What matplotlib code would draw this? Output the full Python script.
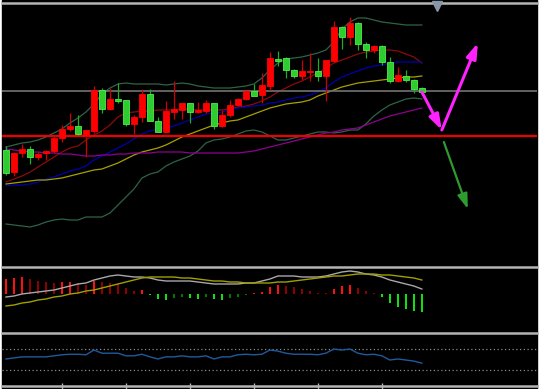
import matplotlib
matplotlib.use("Agg")
import matplotlib.pyplot as plt
import numpy as np
from matplotlib.patches import Rectangle

W, H = 539, 389

# candles (price in points)
opens = [150, 128, 147, 151, 143, 147, 149, 162, 171, 174, 165, 169, 210, 191, 201, 200, 176, 183,
         206, 179, 168, 188, 190, 197, 188, 189, 197, 174, 185, 195, 201, 209, 205, 214, 241, 242,
         230, 224, 228, 229, 224, 239, 273, 263, 277, 256, 250, 254, 238, 219, 224, 220, 212]
highs = [154, 148, 156, 154, 148, 150, 165, 175, 187, 185, 170, 214, 212, 212, 217, 200, 185, 211,
         211, 183, 199, 219, 197, 197, 198, 200, 197, 190, 200, 202, 210, 216, 227, 248, 249, 243,
         231, 240, 247, 242, 240, 279, 274, 283, 278, 258, 255, 255, 243, 233, 230, 221, 213]
lows = [125, 124, 143, 136, 140, 140, 147, 158, 169, 165, 143, 167, 187, 190, 197, 174, 166, 178,
        179, 168, 168, 181, 181, 177, 187, 187, 171, 173, 183, 194, 200, 204, 197, 210, 234, 222,
        222, 220, 219, 219, 199, 238, 251, 255, 250, 242, 247, 235, 217, 218, 218, 207, 207]
closes = [127, 147, 151, 143, 146, 149, 162, 171, 174, 166, 170, 210, 191, 201, 199, 176, 183, 206,
          179, 168, 189, 191, 197, 188, 190, 197, 174, 185, 195, 201, 209, 204, 215, 242, 239, 230,
          224, 229, 229, 224, 240, 273, 263, 277, 256, 250, 254, 238, 219, 225, 220, 211, 208]

# bollinger bands and moving averages
bb_upper = [153, 155, 157, 158, 160, 163, 167, 171, 177, 182, 188, 196, 206, 212, 216, 217, 216, 216,
            216, 216, 215, 216, 217, 216, 214, 213, 212, 212, 212, 213, 214, 216, 222, 230, 237, 241,
            242, 243, 245, 247, 250, 258, 271, 278, 282, 282, 280, 278, 277, 276, 275, 275, 275]
bb_mid = [118, 121, 124, 128, 133, 138, 143, 148, 152, 154, 160, 165, 169, 175, 183, 187, 188, 189,
          189, 190, 190, 190, 191, 191, 190, 190, 190, 190, 191, 193, 194, 196, 199, 203, 208, 212,
          216, 219, 223, 227, 232, 237, 240, 243, 246, 248, 249, 250, 250, 249, 246, 243, 237]
bb_lower = [76, 75, 74, 73, 75, 78, 80, 81, 80, 80, 83, 83, 83, 87, 95, 103, 111, 122,
            126, 128, 134, 138, 141, 144, 149, 157, 160, 161, 163, 166, 169, 170, 168, 164, 160, 160,
            162, 164, 166, 168, 168, 167, 168, 170, 170, 176, 184, 190, 195, 198, 201, 202, 201]
ma_blue = [114, 115, 115, 116, 118, 121, 123, 126, 129, 131, 134, 140, 144, 148, 152, 156, 161, 166,
           169, 171, 172, 174, 177, 180, 183, 186, 187, 188, 190, 192, 193, 194, 195, 197, 198, 200,
           202, 203, 205, 208, 212, 218, 223, 226, 229, 232, 234, 235, 237, 238, 238, 238, 238]
ma_yellow = [116, 117, 118, 119, 120, 120, 121, 122, 124, 126, 128, 130, 131, 134, 137, 141, 145, 148,
             150, 152, 155, 159, 163, 166, 169, 172, 175, 177, 179, 180, 183, 186, 189, 192, 194, 196,
             197, 198, 200, 204, 207, 210, 213, 215, 217, 218, 219, 220, 221, 222, 223, 223, 224]
ma_purple = [151, 150, 149, 148, 148, 147, 147, 146, 146, 145, 144, 144, 145, 145, 146, 146, 147, 147,
             147, 148, 148, 148, 148, 147, 147, 147, 147, 147, 147, 147, 148, 149, 151, 153, 155, 157,
             159, 161, 163, 165, 167, 168, 170, 171, 172, 175, 178, 181, 184, 186, 188, 190, 192]

resistance_level = 209
support_level = 164

# forecast arrows: (start index, start price, end index, end price)
arrow_down = (52, 208, 54.5, 170)
arrow_up = (54.5, 170, 59, 257)
arrow_alt = (54.75, 158, 57.75, 91)
shift_marker = (53.9, 294)

# MACD
macd_hist = [14.5, 15.5, 16.5, 14.5, 12.5, 11.5, 10.5, 11.5, 12.0, 10.5, 8.5, 12.5, 11.5, 10.5, 10.0,
             5.5, 2.5, 3.5, -1.0, -5.5, -6.0, -4.5, -3.5, -4.5, -5.0, -3.5, -5.5, -6.0, -4.5, -3.5,
             -1.5, 0.5, 1.5, 6.5, 8.5, 8.0, 6.5, 4.5, 2.5, 0.5, 0.4, 4.5, 7.5, 8.5, 5.5, 2.5, 0.5,
             -3.5, -9.5, -13.5, -15.5, -17.5, -18.5]
macd_main = [-3.5, -2.5, -0.5, 0.5, 1.5, 2.5, 3.5, 5.5, 7.5, 9.5, 10.5, 13.5, 15.5, 17.5, 18.5, 17.5,
             16.5, 16.5, 15.5, 13.5, 12.5, 12.5, 12.5, 12.5, 11.5, 10.5, 9.5, 9.5, 9.5, 9.5, 10.5,
             10.5, 12.5, 14.5, 17.5, 17.5, 17.5, 16.5, 16.5, 16.5, 17.5, 19.5, 21.5, 22.5, 21.5, 19.5,
             18.5, 16.5, 13.5, 11.5, 9.5, 7.5, 4.5]
macd_signal = [-12.5, -11.5, -9.5, -8.5, -6.5, -5.5, -3.5, -2.5, -0.5, 0.5, 2.5, 3.5, 5.5, 7.5, 9.5,
               11.5, 13.5, 15.5, 16.5, 16.5, 16.5, 16.5, 15.5, 15.5, 14.5, 13.5, 12.5, 12.5, 11.5,
               11.5, 10.5, 10.5, 10.5, 10.5, 11.5, 11.5, 12.5, 13.5, 14.5, 15.5, 16.5, 17.5, 17.5,
               18.5, 19.5, 19.5, 19.5, 18.5, 18.5, 17.5, 16.5, 15.5, 13.5]

# RSI
rsi = [51, 53, 55, 55, 55, 55, 57, 59, 60, 60, 59, 68, 62, 62, 62, 57, 57, 60, 55, 51, 55, 55, 57,
       55, 55, 57, 51, 55, 55, 59, 60, 59, 60, 68, 66, 62, 60, 60, 60, 59, 62, 70, 68, 70, 62, 59,
       60, 57, 49, 51, 49, 47, 43]
rsi_levels = [30, 70]

tick_bars = [7, 15, 23, 31, 39, 47]

n = len(closes)
idx = np.arange(n)
x_left, x_right = -0.5, 66.4


def box(x0, y0, x1, y1):
    return [x0 / W, 1 - y1 / H, (x1 - x0) / W, (y1 - y0) / H]


fig = plt.figure(figsize=(W / 100, H / 100), dpi=100)
fig.patch.set_facecolor("white")
fig.add_artist(Rectangle((2 / W, 0), 535 / W, 1, transform=fig.transFigure,
                         color="black", zorder=0))

sep = "#b4b4b4"


def style(ax):
    ax.set_facecolor("black")
    ax.set_xlim(x_left, x_right)
    for s in ax.spines.values():
        s.set_visible(False)
    ax.spines["top"].set_visible(True)
    ax.spines["top"].set_color(sep)
    ax.spines["top"].set_linewidth(1.8)
    ax.set_xticks([])
    ax.set_yticks([])


# ---- main price panel
ax = fig.add_axes(box(2, 3, 537, 266))
style(ax)
ax.set_ylim(34, 297)

ax.plot(idx, bb_upper, color="#2d6446", lw=0.9)
ax.plot(idx, bb_lower, color="#2d6446", lw=0.9)
ax.plot(idx, bb_mid, color="#8c0a0a", lw=0.9)
ax.plot(idx, ma_blue, color="#0000b0", lw=0.9)
ax.plot(idx, ma_yellow, color="#a8a000", lw=0.9)
ax.plot(idx, ma_purple, color="#900090", lw=0.9)

ax.axhline(resistance_level, color="#6a6a6a", lw=1.3)
ax.axhline(support_level, color="#ee0000", lw=1.6)

o = np.array(opens)
c = np.array(closes)
up = c >= o
body_col = np.where(up, "#ff0000", "#2ecc2e")
edge_col = np.where(up, "#ff0000", "#4cf04c")
wick_col = np.where(up, "#d00000", "#22aa22")
ax.vlines(idx, lows, highs, colors=wick_col, lw=0.9, zorder=3)
ax.bar(idx, np.abs(c - o) + 0.6, bottom=np.minimum(o, c) - 0.3, width=0.68,
       color=body_col, edgecolor=edge_col, linewidth=0.6, zorder=4)

for (x0, y0, x1, y1), col in [(arrow_down, "#ff22ff"), (arrow_up, "#ff22ff"),
                              (arrow_alt, "#2f9a2f")]:
    ax.annotate("", xy=(x1, y1), xytext=(x0, y0),
                arrowprops=dict(arrowstyle="-|>,head_length=0.9,head_width=0.3",
                                color=col, lw=2.2 if col != "#2f9a2f" else 1.6,
                                shrinkA=0, shrinkB=0), zorder=6)

ax.plot([shift_marker[0]], [shift_marker[1]], marker="v", ms=7, color="#8797a8",
        clip_on=False, zorder=7)

# ---- MACD panel
ax2 = fig.add_axes(box(2, 267, 537, 332))
style(ax2)
ax2.set_ylim(-38.5, 26.5)
hist = np.array(macd_hist)
prev = np.concatenate([[hist[0] - 1], hist[:-1]])
cols = []
for v, p in zip(hist, prev):
    if v >= 0:
        cols.append("#ff1010" if v > p else "#8c0000")
    else:
        cols.append("#10e010" if v < p else "#007800")
ax2.bar(idx, hist, width=0.3, color=cols, zorder=2)
ax2.plot(idx, macd_main, color="#a8a8a8", lw=1.0, zorder=3)
ax2.plot(idx, macd_signal, color="#a0a000", lw=1.0, zorder=3)

# ---- RSI panel
ax3 = fig.add_axes(box(2, 333, 537, 386))
style(ax3)
ax3.set_ylim(-0.5, 100.5)
for lvl in rsi_levels:
    ax3.axhline(lvl, color="#8a8a8a", lw=0.9, linestyle=(0, (1, 2)))
ax3.plot(idx, rsi, color="#1f5a9c", lw=1.0)
ax3.spines["bottom"].set_visible(True)
ax3.spines["bottom"].set_color(sep)
ax3.spines["bottom"].set_linewidth(1.8)
ax3.set_xticks(tick_bars)
ax3.set_xticklabels([])
ax3.tick_params(axis="x", direction="inout", length=4, color=sep, width=1)

fig.savefig("out.png", dpi=100, facecolor=fig.get_facecolor())
